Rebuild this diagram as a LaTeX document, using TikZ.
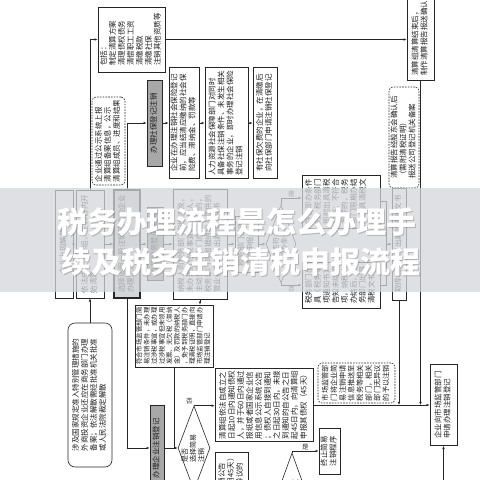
\documentclass[tikz,border=0pt]{standalone}
\usepackage{fontspec}
\usepackage{graphicx}
\usetikzlibrary{shapes.geometric,arrows.meta,calc}
\newfontfamily\cjk{Noto Sans CJK SC}
\newcommand\vt[1]{\rotatebox{90}{\begin{tabular}{@{}l@{}}#1\end{tabular}}}
\definecolor{bandc}{RGB}{212,214,219}
\definecolor{grayfill}{RGB}{168,168,168}
\definecolor{selfill}{RGB}{214,214,214}
\tikzset{
 ln/.style={draw=black!85, line width=0.6pt},
 arr/.style={ln, -{Latex[length=3.2pt,width=2.6pt]}},
 bx/.style={draw=black!85, line width=0.6pt, fill=white, inner sep=0pt, text=black!88, font=\cjk\fontsize{7.5}{8.8}\selectfont},
 gbx/.style={bx, fill=grayfill},
 selbx/.style={bx, fill=selfill, line width=1.5pt},
 dbx/.style={bx, dashed, dash pattern=on 1.6pt off 1.2pt, rounded corners=4pt},
 rbx/.style={bx, rounded corners=7pt},
 dia/.style={bx, shape=diamond, inner sep=0pt},
 sz/.style 2 args={minimum width=#1pt, minimum height=#2pt},
 lbl/.style={font=\cjk\fontsize{6.5}{7}\selectfont, text=black!85, inner sep=1pt},
 dlbl/.style={font=\cjk\fontsize{7}{8}\selectfont, text=black!88, inner sep=0pt},
 ttl/.style={font=\cjk\bfseries\fontsize{30}{32}\selectfont, text=white, inner sep=0pt},
}
\begin{document}
\begin{tikzpicture}[x=1pt,y=-1pt]
\useasboundingbox (0,0) rectangle (480,480);
\fill[white] (0,0) rectangle (480,480);
\clip (0,0) rectangle (480,480);

% ---- top part
\node[bx,sz={67}{65}] (A) at (131.5,39.5) {\vt{包括：\\制定清算方案\\清理债权债务\\清偿职工工资\\清缴税款\\清缴社保\\注销其他资质等}};
\node[bx,sz={27}{84}] (B) at (420.5,38) {\vt{清算组清算结束后，\\制作清算报告报送确认}};
\node[dbx,sz={33}{88}] (C) at (108.5,141) {\vt{企业通过公示系统上报\\清算组备案信息，公示\\清算组成员、进度和结果}};
\node[gbx,sz={15}{86}] (D) at (154.5,123) {\vt{办理社保登记注销}};
\node[bx,sz={30}{111}] (E1) at (184,123) {\vt{企业在办理注销社会保险登记\\前，应当结清应缴纳的社会保\\险费、滞纳金、罚款等}};
\node[bx,sz={43}{111}] (E2) at (226.5,123) {\vt{人力资源社会保障部门对同时\\具备社保注销条件、未发生相关\\事务的企业，即时办理社会保险\\登记注销}};
\node[bx,sz={24}{111}] (E3) at (265,123) {\vt{有社保欠费的企业，在清缴后\\向社保部门申请注销社保登记}};
\node[dbx,sz={30}{101}] (S) at (404,137.5) {\vt{清算报告经股东会确认后\\（需附清税证明）\\报送公司登记机关备案}};

% ---- middle row
\node[bx,sz={18}{108}] (F1) at (64,244) {\vt{企业出现解散事由}};
\node[bx,sz={28}{108}] (F2) at (90,244) {\vt{依法成立清算组，在15日内开\\始清算}};
\node[selbx,sz={26}{108}] (G) at (127,244) {\vt{选择适用一般注销程序的企业\\办理注销}};
\node[gbx,sz={16}{73}] (D2) at (155,244) {\vt{办理税务登记注销}};
\node[bx,sz={54}{110}] (J) at (200,244) {\vt{纳税人向税务部门申报清税，\\未办理过涉税事宜的纳税人，\\主动到税务部门办理清税的，\\税务部门可根据纳税人提供的\\营业执照即时出具清税文书}};
\node[bx,sz={23}{56}] (L) at (246.5,244) {\vt{税务部门受理\\清税申报}};
\node[dia,sz={30}{78},label={[dlbl]center:{\vt{是否符合\\即办条件}}}] (M) at (281,244) {};
\node[bx,sz={78}{53}] (N) at (341,201.5) {\vt{符合即办条件\\的，税务部门\\即时出具清税\\文书；不符合\\条件的，税务\\部门限期办结\\后出具清税文\\书}};
\node[bx,sz={78}{46}] (P) at (341,285) {\vt{税务部门出\\具《税务事\\项通知书》\\告知未结事\\项，纳税人\\办结后，税\\务部门出具\\清税文书}};
\node[bx,sz={14}{112}] (Q) at (399,244) {\vt{取得税务部门出具的清税文书}};

% ---- bottom part
\node[rbx,sz={44}{144}] (H) at (90,395) {\vt{涉及国家规定准入特别管理措施的\\外商投资企业还应在商务部门办理\\备案；依法解散需经批准机关批准\\或人民法院裁定解散}};
\node[bx,sz={78}{62},font=\cjk\fontsize{6.4}{7.1}\selectfont] (T) at (174,336) {\vt{符合市场监管部门简\\易注销条件，未办理\\过涉税事宜，或办理\\过涉税事宜但未领用\\发票、无欠税（滞纳\\金）及罚款的纳税人\\，免予到税务部门办\\理清税证明，直接向\\市场监管部门申请办\\理注销登记}};
\node[gbx,sz={14}{86}] (K) at (157,448) {\vt{办理企业注销登记}};
\node[dia,sz={32}{84},label={[dlbl]center:{\vt{是否\\选择简易\\注销}}}] (U) at (194,448) {};
\node[bx,sz={98}{73}] (V) at (264,405) {\vt{清算组依法自成立之\\日起10日内通知债权\\人，并于60日内通过\\报纸或者国家企业信\\用信息公示系统公告\\；债权人自接到通知\\之日起30日内，未接\\到通知的自公告之日\\起45日内，向清算组\\申报其债权（45天）}};
\node[bx,sz={33}{58}] (W) at (231.5,481) {\vt{简易注销公告\\（公示期45天）\\期满无异议的}};
\node[dia,sz={32}{88},label={[dlbl]center:{\vt{公示期内\\是否有异议}}}] (X) at (292,497) {};
\node[bx,sz={21}{46}] (Y) at (329.5,451) {\vt{终止简易\\注销程序}};
\node[dbx,sz={77}{40},font=\cjk\fontsize{7.2}{8.6}\selectfont] (S2) at (356.5,383) {\vt{市场监管部\\门将企业简\\易注销申请\\信息推送至\\税务等相关\\部门，相关\\部门无异议\\的予以注销}};
\node[bx,sz={27}{81}] (R) at (443.5,405) {\vt{企业向市场监管部门\\申请办理注销登记}};

% ---- connectors
\draw[arr] (F1) -- (F2);
\draw[arr] (F2) -- (G);
\draw[arr] (F2.north) |- (A.west);
\draw[arr] (A.east) -- (A.east -| B.west);
\draw[arr] (G.north) |- (D.west);
\draw[arr] (D) -- (E1);
\draw[arr] (E1) -- (E2);
\draw[arr] (E2) -- (E3);
\draw[arr] (G) -- (D2);
\draw[arr] (D2) -- (J);
\draw[arr] (J) -- (L);
\draw[arr] (L) -- (M);
\draw[arr] (M.north) |- (N.west |- 0,198) node[pos=0.75, above, lbl] {是};
\draw[arr] (M.south) |- (P.west) node[pos=0.75, below, lbl] {否};
\coordinate (j1) at (386,244);
\draw[ln] (N.east) -| (j1);
\draw[ln] (P.east) -| (j1);
\draw[arr] (j1) -- (Q.west);
\draw[arr] (V.east) -- (R.west);
\draw[arr] (Q.south) -- (Q.south |- R.west);
\draw[arr] (B.south) -- (B.south |- R.west);
\draw[arr] (H.north) -- (F2.south);
\draw[arr] (G.south) |- (K.west);
\draw[arr] (J.south) -- (J.south |- T.north);
\draw[ln] (T.south) -- (T.south |- K.east);
\draw[arr] (K.east) -- (U.west);
\draw[arr] (U.north) -- (U.north -| V.west) node[pos=0, above left, lbl] {否};
\draw[arr] (X.north) |- (Y.west) node[pos=0.75, above, lbl] {是};
\coordinate (bot) at (443.5,495);
\draw[arr] (bot) -- (R.south);

% ---- title banner
\fill[bandc, opacity=0.75] (0,188) rectangle (480,292);
\node[ttl, text=black!50, opacity=0.45] (T1s) at (238,223) {税务办理流程是怎么办理手};
\node[ttl] (T1) at (237,222) {税务办理流程是怎么办理手};
\node[ttl, text=black!50, opacity=0.45] (T2s) at (242,263) {续及税务注销清税申报流程};
\node[ttl] (T2) at (241,262) {续及税务注销清税申报流程};
\end{tikzpicture}
\end{document}
